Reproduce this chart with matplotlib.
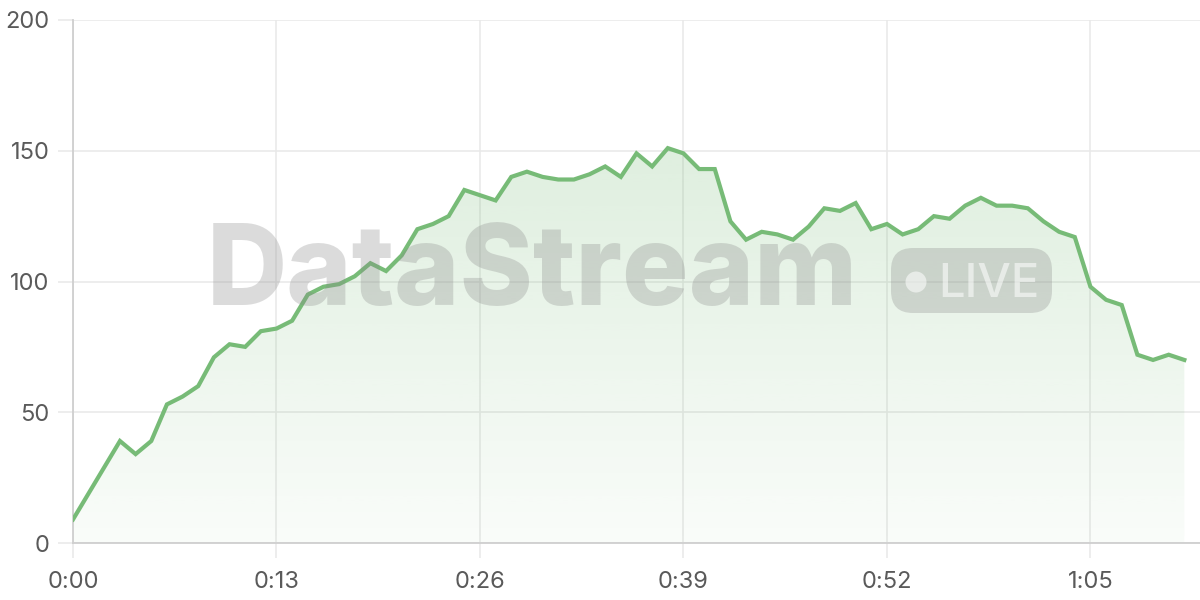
import matplotlib
matplotlib.use("Agg")
import matplotlib.pyplot as plt
import numpy as np
from matplotlib.patches import FancyBboxPatch, Circle, Polygon
from matplotlib.transforms import IdentityTransform

plt.rcParams['font.family'] = ['Inter', 'DejaVu Sans']

# one reading per second, 0:00 .. 1:11
seconds = list(range(72))
values = [9, 19, 29, 39, 34, 39, 53, 56, 60, 71,
          76, 75, 81, 82, 85, 95, 98, 99, 102, 107,
          104, 110, 120, 122, 125, 135, 133, 131, 140, 142,
          140, 139, 139, 141, 144, 140, 149, 144, 151, 149,
          143, 143, 123, 116, 119, 118, 116, 121, 128, 127,
          130, 120, 122, 118, 120, 125, 124, 129, 132, 129,
          129, 128, 123, 119, 117, 98, 93, 91, 72, 70,
          72, 70]
xticks = [0, 13, 26, 39, 52, 65]
yticks = [0, 50, 100, 150, 200]

line_color = '#77bb77'
grid_color = '#e8e8e8'
axis_color = '#cfcfcf'
text_color = '#5a5a5a'

fig = plt.figure(figsize=(12, 6), dpi=100)
ax = fig.add_axes([73 / 1200, 57 / 600, 1127 / 1200, 523 / 600])
ax.set_xlim(0, 72)
ax.set_ylim(0, 200)

x = np.array(seconds)
y = np.array(values)

# gradient fill under the line
grad = np.zeros((256, 1, 4))
g = np.array([0x77, 0xbb, 0x77]) / 255
grad[:, 0, :3] = g
grad[:, 0, 3] = np.linspace(0.04, 0.30, 256)
im = ax.imshow(grad, extent=[x[0], x[-1], 0, 200], origin='lower',
               aspect='auto', zorder=1, interpolation='bilinear')
verts = [(x[0], 0)] + list(zip(x, y)) + [(x[-1], 0)]
clip = Polygon(verts, closed=True, facecolor='none', edgecolor='none')
ax.add_patch(clip)
im.set_clip_path(clip)

ax.plot(x, y, color=line_color, lw=3, zorder=4, solid_joinstyle='miter')

# axes styling
ax.set_xticks(xticks)
ax.set_xticklabels([f"{s // 60}:{s % 60:02d}" for s in xticks])
ax.set_yticks(yticks)
ax.grid(True, color=grid_color, lw=1.1, zorder=0)
ax.set_axisbelow(True)
for side in ['top', 'right']:
    ax.spines[side].set_visible(False)
for side in ['left', 'bottom']:
    ax.spines[side].set_color(axis_color)
    ax.spines[side].set_linewidth(1.3)
ax.tick_params(axis='both', length=11, width=1.1, color=grid_color,
               labelsize=17, labelcolor=text_color)
ax.tick_params(axis='y', pad=6)
ax.tick_params(axis='x', pad=9)

# watermark
wm = '#8a8a8a'
fig.text(207 / 1200, 1 - 305 / 600, 'DataStream', fontsize=80,
         fontweight='heavy', color=wm, alpha=0.3, ha='left', va='baseline',
         zorder=3)
box = FancyBboxPatch((891, 287), 161, 65,
                     boxstyle='round,pad=0,rounding_size=22',
                     transform=IdentityTransform(), facecolor=wm,
                     edgecolor='none', alpha=0.3, zorder=3)
fig.patches.append(box)
dot = Circle((916, 318), 10.5, transform=IdentityTransform(),
             facecolor='white', edgecolor='none', alpha=0.55, zorder=3)
fig.patches.append(dot)
fig.text(938 / 1200, 1 - 297 / 600, 'LIVE', fontsize=34, fontweight='medium',
         color='white', alpha=0.55, ha='left', va='baseline', zorder=3)

fig.savefig('out.png', dpi=100)
